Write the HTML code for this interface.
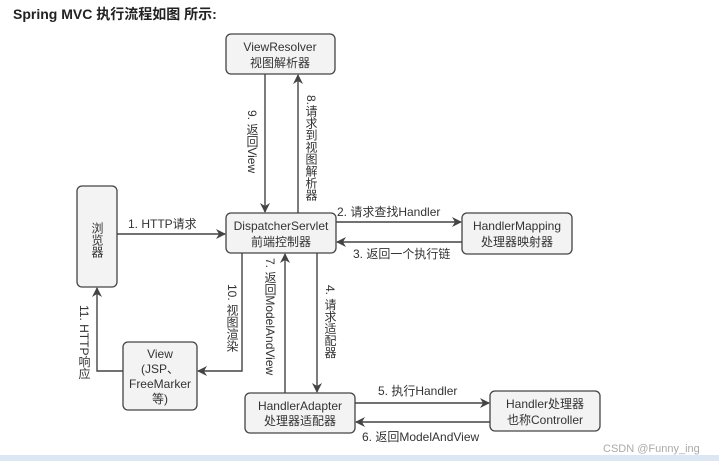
<!DOCTYPE html>
<html><head><meta charset="utf-8"><style>
html,body{margin:0;padding:0;background:#fff;width:719px;height:461px;overflow:hidden}
svg{display:block;font-family:"Liberation Sans","Noto Sans CJK SC",sans-serif}
.box{fill:#f3f3f3;stroke:#444;stroke-width:1.3}
.t{font-size:12px;fill:#333}
.l{stroke:#444;stroke-width:1.4;fill:none}
.vt{writing-mode:tb;font-size:12px;fill:#333}
</style></head><body>
<svg width="719" height="461" viewBox="0 0 719 461">
<defs><marker id="a" markerWidth="10" markerHeight="10" refX="9" refY="5" orient="auto" markerUnits="userSpaceOnUse"><path d="M0,0 L10,5 L0,10 L3,5 z" fill="#444"/></marker></defs>
<text x="13" y="19" font-size="14" font-weight="bold" fill="#222">Spring MVC 执行流程如图 所示:</text>

<rect class="box" x="226" y="34" width="109" height="40" rx="5"/>
<text class="t" x="280" y="51" text-anchor="middle">ViewResolver</text>
<text class="t" x="280" y="67" text-anchor="middle">视图解析器</text>

<rect class="box" x="77" y="186" width="40" height="101" rx="5"/>
<text class="vt" x="97" y="222">浏览器</text>

<rect class="box" x="226" y="213" width="110" height="40" rx="5"/>
<text class="t" x="281" y="230" text-anchor="middle">DispatcherServlet</text>
<text class="t" x="281" y="246" text-anchor="middle">前端控制器</text>

<rect class="box" x="462" y="213" width="110" height="41" rx="5"/>
<text class="t" x="517" y="230" text-anchor="middle">HandlerMapping</text>
<text class="t" x="517" y="246" text-anchor="middle">处理器映射器</text>

<rect class="box" x="123" y="342" width="74" height="68" rx="5"/>
<text class="t" x="160" y="358" text-anchor="middle">View</text>
<text class="t" x="160" y="373" text-anchor="middle">(JSP、</text>
<text class="t" x="160" y="388" text-anchor="middle">FreeMarker</text>
<text class="t" x="160" y="403" text-anchor="middle">等)</text>

<rect class="box" x="245" y="393" width="110" height="40" rx="5"/>
<text class="t" x="300" y="410" text-anchor="middle">HandlerAdapter</text>
<text class="t" x="300" y="425" text-anchor="middle">处理器适配器</text>

<rect class="box" x="490" y="391" width="110" height="40" rx="5"/>
<text class="t" x="545" y="408" text-anchor="middle">Handler处理器</text>
<text class="t" x="545" y="424" text-anchor="middle">也称Controller</text>

<line class="l" x1="265" y1="74" x2="265" y2="212" marker-end="url(#a)"/>
<text class="vt" x="252" y="110">9. 返回View</text>
<line class="l" x1="298" y1="213" x2="298" y2="75" marker-end="url(#a)"/>
<text class="vt" x="311" y="95">8.请求到视图解析器</text>

<line class="l" x1="117" y1="234" x2="225" y2="234" marker-end="url(#a)"/>
<text class="t" x="128" y="228">1. HTTP请求</text>
<line class="l" x1="336" y1="222" x2="461" y2="222" marker-end="url(#a)"/>
<text class="t" x="337" y="216">2. 请求查找Handler</text>
<line class="l" x1="462" y1="242" x2="337" y2="242" marker-end="url(#a)"/>
<text class="t" x="353" y="258">3. 返回一个执行链</text>

<polyline class="l" points="242,253 242,371 198,371" marker-end="url(#a)"/>
<text class="vt" x="232" y="284">10. 视图渲染</text>
<polyline class="l" points="123,371 97,371 97,288" marker-end="url(#a)"/>
<text class="vt" x="84" y="305">11. HTTP响应</text>

<line class="l" x1="285" y1="393" x2="285" y2="254" marker-end="url(#a)"/>
<text class="vt" x="270" y="258">7. 返回ModelAndView</text>
<line class="l" x1="317" y1="253" x2="317" y2="392" marker-end="url(#a)"/>
<text class="vt" x="330" y="285">4. 请求适配器</text>

<line class="l" x1="355" y1="403" x2="489" y2="403" marker-end="url(#a)"/>
<text class="t" x="378" y="395">5. 执行Handler</text>
<line class="l" x1="490" y1="422" x2="356" y2="422" marker-end="url(#a)"/>
<text class="t" x="362" y="441">6. 返回ModelAndView</text>

<text x="603" y="452" font-size="11" fill="#aaa">CSDN @Funny_ing</text>
<rect x="0" y="455" width="719" height="6" fill="#dde6f5"/>
</svg>
</body></html>
